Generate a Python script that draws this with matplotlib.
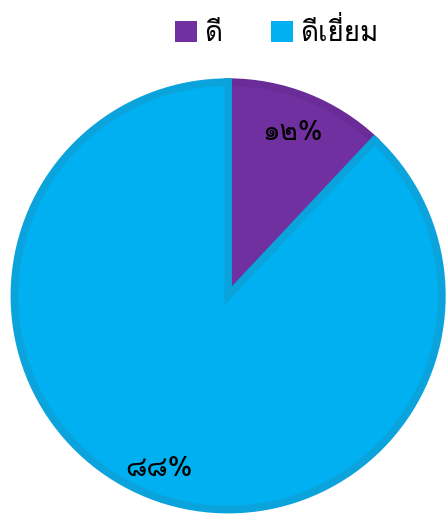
import matplotlib
matplotlib.use('Agg')
import matplotlib.pyplot as plt
from matplotlib.patches import Patch
import numpy as np

# data
labels = ['ดี', 'ดีเยี่ยม']
values = [12, 88]
colors = ['#7030A0', '#00B0F0']
edges = ['#6A2C97', '#0BA3DC']
label_dist = [0.81, 0.86]

# Loma places the tone marks right without text shaping
plt.rcParams['font.family'] = ['Loma', 'DejaVu Sans']

thai_digits = str.maketrans('0123456789', '๐๑๒๓๔๕๖๗๘๙')


def fmt(p):
    return ('%d%%' % round(p)).translate(thai_digits)


fig = plt.figure(figsize=(4.46, 5.15), dpi=100)
ax = fig.add_axes([0.025, 0.004, 0.973, 0.843])

wedges, texts, autotexts = ax.pie(values, colors=colors, startangle=90,
                                  counterclock=False, autopct=fmt,
                                  pctdistance=0.82, radius=0.985,
                                  wedgeprops=dict(linewidth=5.5))
for w, e, t, d in zip(wedges, edges, autotexts, label_dist):
    w.set_edgecolor(e)
    mid = np.deg2rad((w.theta1 + w.theta2) / 2)
    t.set_position((d * np.cos(mid), d * np.sin(mid)))
    t.set_fontsize(20)
    t.set_color('black')
ax.set_xlim(-1, 1)
ax.set_ylim(-1, 1)
ax.set_aspect('equal')

handles = [Patch(facecolor=c, edgecolor='none') for c in colors]
fig.legend(handles, labels, loc='center', bbox_to_anchor=(0.62, 0.936),
           ncol=2, frameon=False, handlelength=0.8,
           handleheight=0.8, handletextpad=0.25, columnspacing=1.75,
           prop=dict(size=20))

fig.savefig('out.png')
